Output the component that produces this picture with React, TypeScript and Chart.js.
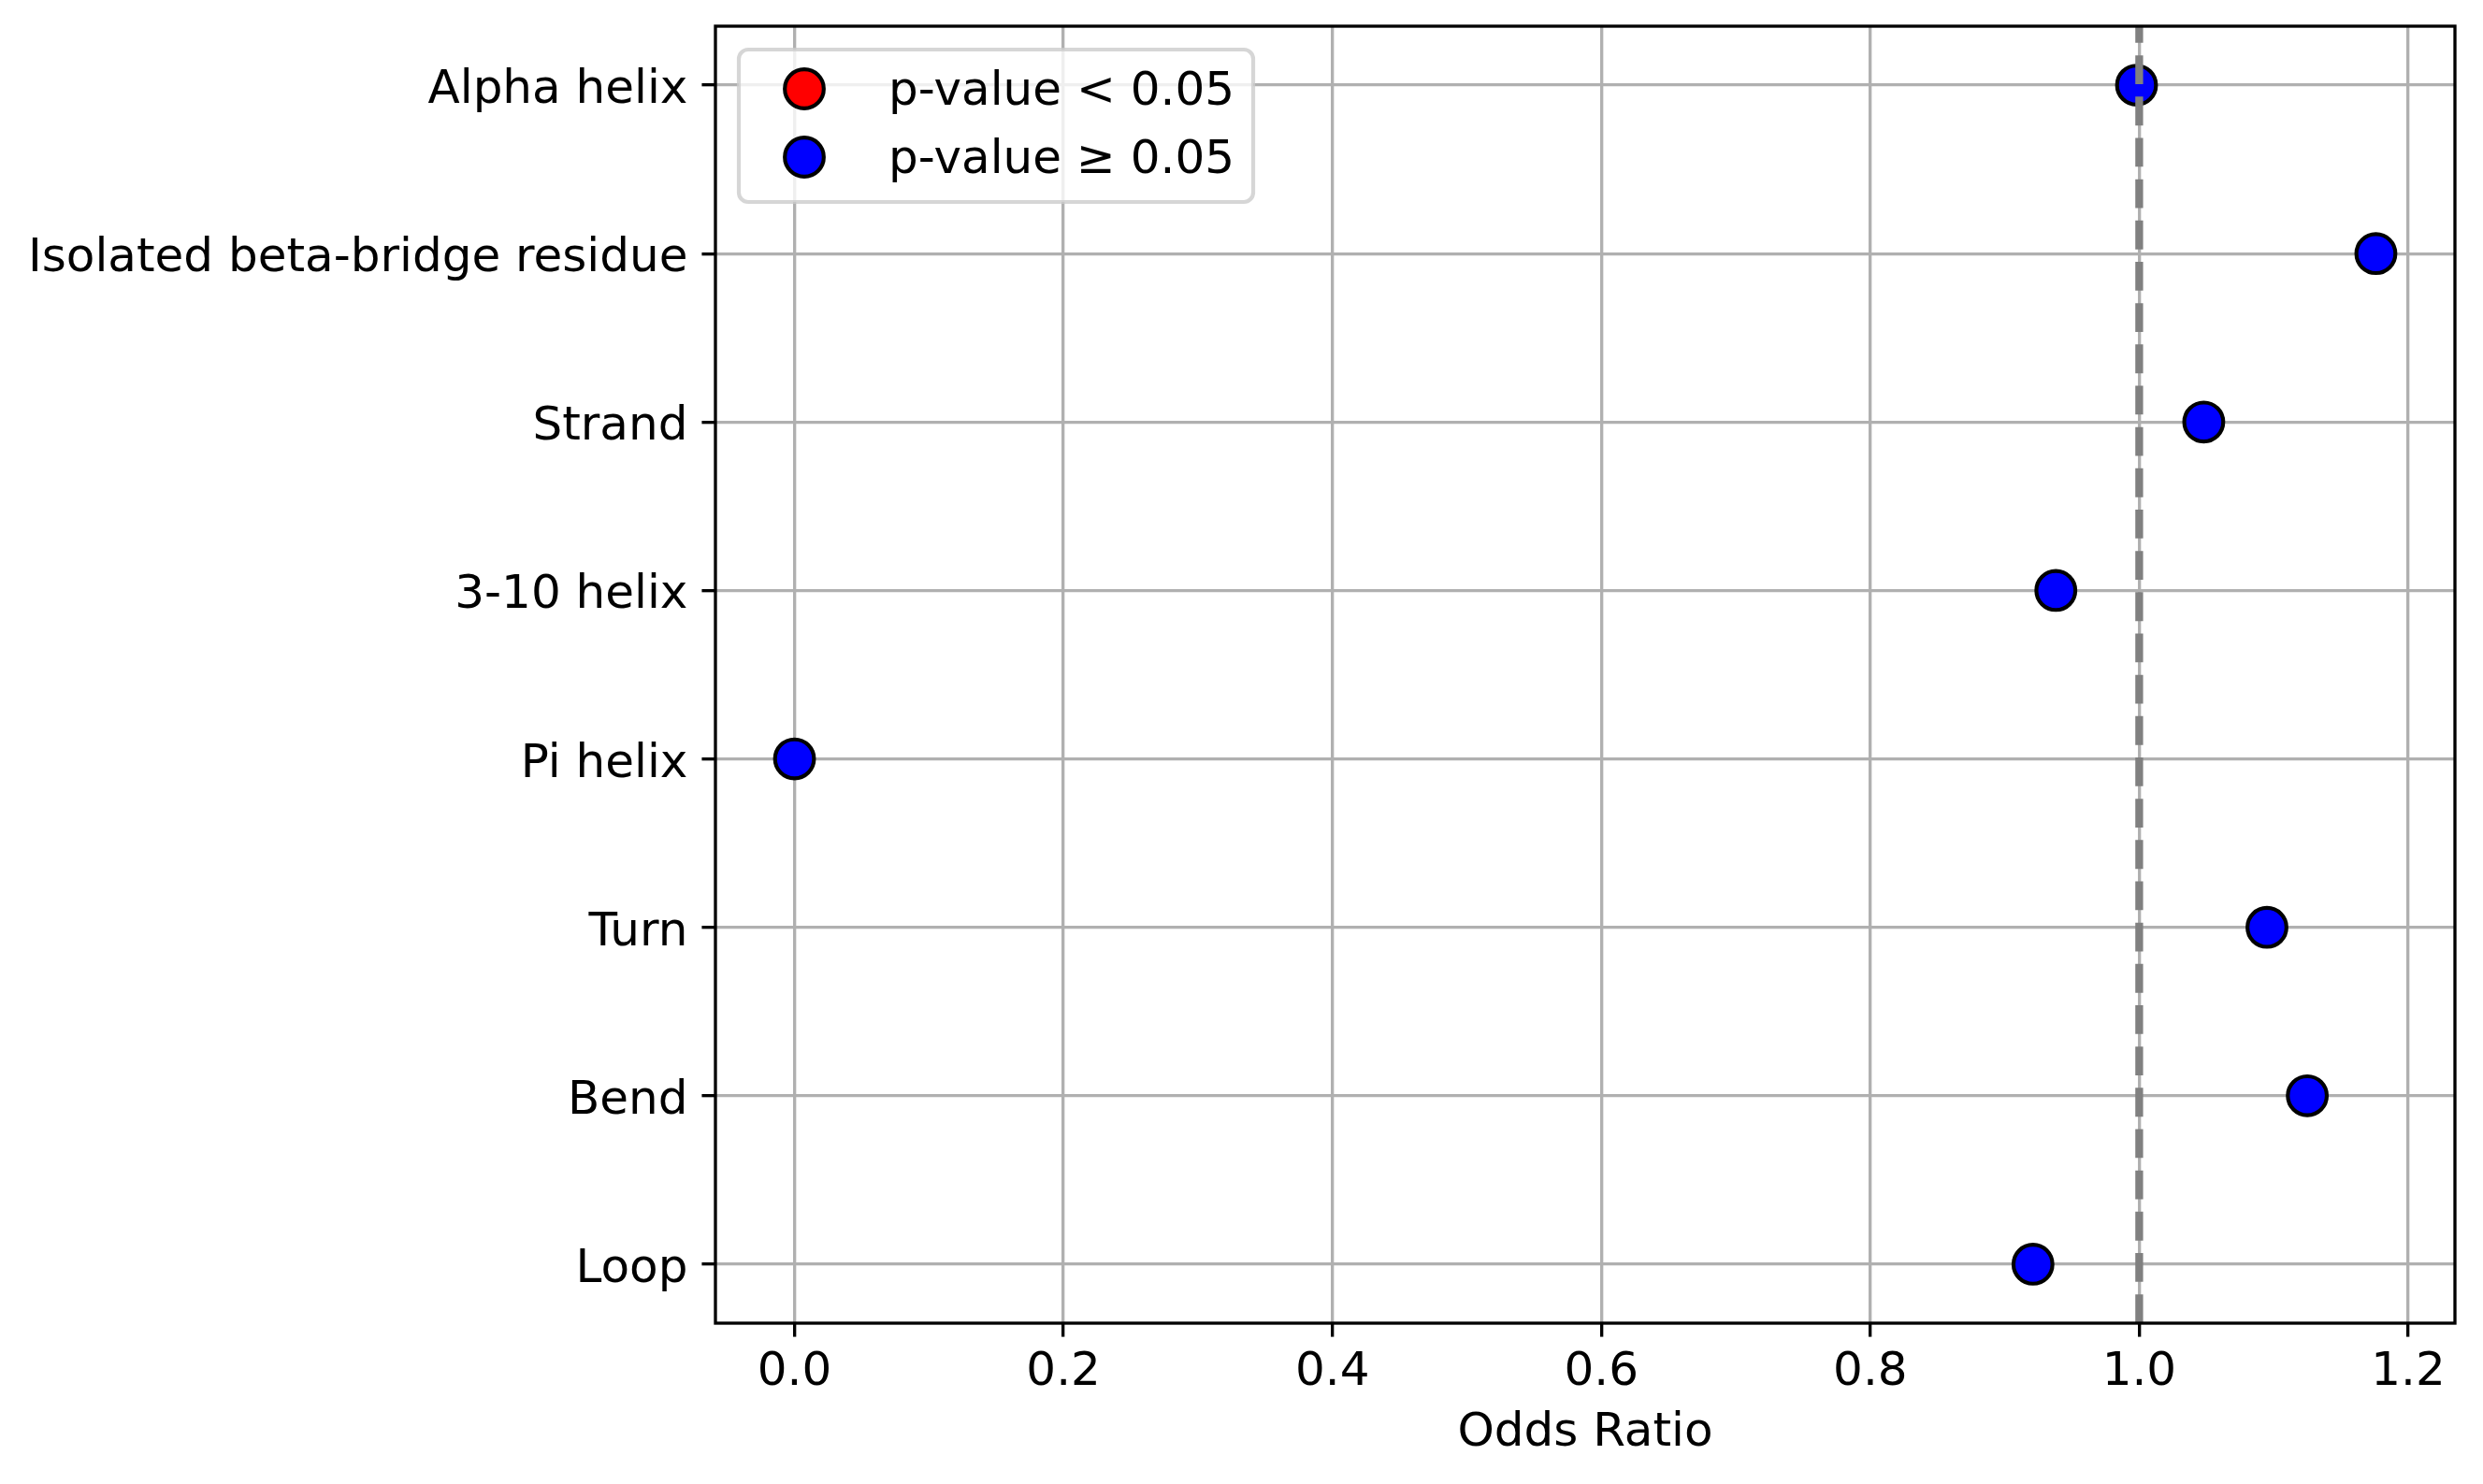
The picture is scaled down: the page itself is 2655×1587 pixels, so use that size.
import { useEffect, useRef } from "react"
import { Chart, registerables, type Plugin } from "chart.js"

Chart.register(...registerables)

// Secondary structure categories, top to bottom
const categories = [
  "Alpha helix",
  "Isolated beta-bridge residue",
  "Strand",
  "3-10 helix",
  "Pi helix",
  "Turn",
  "Bend",
  "Loop",
]
const oddsRatios = [0.998, 1.176, 1.048, 0.938, 0.0, 1.095, 1.125, 0.921]
const significant = [false, false, false, false, false, false, false, false]
const xTicks = [0, 0.2, 0.4, 0.6, 0.8, 1.0, 1.2]
const legendLabels = ["p-value < 0.05", "p-value \u2265 0.05"]
const referenceLine = 1.0

const PT = 300 / 72 // matplotlib points -> pixels at 300 dpi
const FONT = "'DejaVu Sans', sans-serif"
const FS = 12 * PT

const W = 2655
const H = 1587

const pointsFor = (sig: boolean) =>
  categories
    .map((_, i) => ({ x: oddsRatios[i], y: i }))
    .filter((_, i) => significant[i] === sig)

// matplotlib-like 5% margins
const xMin = Math.min(...oddsRatios)
const xMax = Math.max(...oddsRatios)
const xPad = (xMax - xMin) * 0.05
const yPad = (categories.length - 1) * 0.05

const overlay: Plugin<"scatter"> = {
  id: "overlay",
  afterDraw(chart) {
    const { ctx, chartArea: a, scales } = chart
    ctx.save()

    // reference line at OR = 1
    const rx = scales.x.getPixelForValue(referenceLine)
    ctx.beginPath()
    ctx.setLineDash([7.4 * PT, 3.2 * PT])
    ctx.lineWidth = 2 * PT
    ctx.strokeStyle = "#808080"
    ctx.moveTo(rx, a.bottom)
    ctx.lineTo(rx, a.top)
    ctx.stroke()
    ctx.setLineDash([])

    // axes frame
    ctx.lineWidth = 0.8 * PT
    ctx.strokeStyle = "black"
    ctx.strokeRect(a.left, a.top, a.right - a.left, a.bottom - a.top)

    // legend box in the upper left
    ctx.font = `${FS}px ${FONT}`
    const datasets = chart.data.datasets
    const textW = Math.max(...datasets.map((d) => ctx.measureText(String(d.label)).width))
    const bx = a.left + 0.5 * FS
    const by = a.top + 0.5 * FS
    const bw = 0.4 * FS + 2 * FS + 0.8 * FS + textW + 0.4 * FS
    const bh = 163
    ctx.beginPath()
    ctx.roundRect(bx, by, bw, bh, 0.2 * FS)
    ctx.fillStyle = "rgba(255,255,255,0.8)"
    ctx.fill()
    ctx.lineWidth = 1 * PT
    ctx.strokeStyle = "rgba(204,204,204,0.8)"
    ctx.stroke()

    datasets.forEach((d, i) => {
      const cy = by + 42 + i * 73
      ctx.beginPath()
      ctx.arc(bx + 0.4 * FS + FS, cy, 5 * PT, 0, Math.PI * 2)
      ctx.fillStyle = d.backgroundColor as string
      ctx.fill()
      ctx.lineWidth = 1 * PT
      ctx.strokeStyle = "black"
      ctx.stroke()
      ctx.fillStyle = "black"
      ctx.textAlign = "left"
      ctx.textBaseline = "alphabetic"
      ctx.fillText(String(d.label), bx + 0.4 * FS + 2 * FS + 0.8 * FS, cy + 17)
    })

    ctx.restore()
  },
}

export default function App() {
  const canvasRef = useRef<HTMLCanvasElement>(null)
  const chartRef = useRef<Chart | null>(null)

  useEffect(() => {
    document.body.style.margin = "0"
    if (!canvasRef.current) return
    if (chartRef.current) chartRef.current.destroy()

    const tickFont = { family: FONT, size: FS }
    const grid = {
      color: "#b0b0b0",
      lineWidth: 0.8 * PT,
      tickColor: "black",
      tickWidth: 0.8 * PT,
      tickLength: 3.5 * PT,
    }

    chartRef.current = new Chart(canvasRef.current, {
      type: "scatter",
      data: {
        datasets: [
          {
            label: legendLabels[0],
            data: pointsFor(true),
            backgroundColor: "red",
            borderColor: "black",
          },
          {
            label: legendLabels[1],
            data: pointsFor(false),
            backgroundColor: "blue",
            borderColor: "black",
          },
        ],
      },
      options: {
        responsive: false,
        devicePixelRatio: 1,
        animation: false,
        layout: { padding: { left: 0, top: 28, right: 30, bottom: 0 } },
        elements: {
          point: { radius: 5 * PT, hoverRadius: 5 * PT, borderWidth: 1 * PT, hoverBorderWidth: 1 * PT },
        },
        plugins: {
          legend: { display: false },
          tooltip: { enabled: false },
        },
        scales: {
          x: {
            type: "linear",
            min: xMin - xPad,
            max: xMax + xPad,
            z: 1,
            grid,
            border: { display: false },
            afterBuildTicks: (s) => {
              s.ticks = xTicks.map((v) => ({ value: v }))
            },
            afterFit: (s) => {
              s.height = 172
              s.paddingLeft = 0
              s.paddingRight = 0
            },
            ticks: {
              font: tickFont,
              color: "black",
              padding: 8,
              autoSkip: false,
              maxRotation: 0,
              callback: (v) => Number(v).toFixed(1),
            },
            title: {
              display: true,
              text: "Odds Ratio",
              color: "black",
              font: tickFont,
              padding: { top: 0, bottom: 24 },
            },
          },
          y: {
            type: "linear",
            reverse: true,
            min: -yPad,
            max: categories.length - 1 + yPad,
            z: 1,
            grid,
            border: { display: false },
            afterBuildTicks: (s) => {
              s.ticks = categories.map((_, i) => ({ value: i }))
            },
            afterFit: (s) => {
              s.width = 765
              s.paddingTop = 0
              s.paddingBottom = 0
            },
            ticks: {
              font: tickFont,
              color: "black",
              padding: 15,
              labelOffset: 6,
              autoSkip: false,
              callback: (v) => categories[Number(v)] ?? "",
            },
          },
        },
      },
      plugins: [overlay],
    })

    return () => {
      if (chartRef.current) {
        chartRef.current.destroy()
        chartRef.current = null
      }
    }
  }, [])

  return <canvas ref={canvasRef} width={W} height={H} style={{ display: "block" }} />
}
